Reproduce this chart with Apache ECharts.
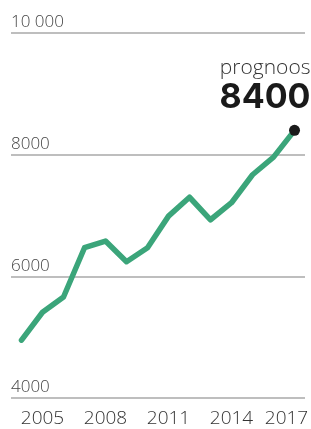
<!DOCTYPE html>
<html>
<head>
<meta charset="utf-8">
<script src="https://cdn.jsdelivr.net/npm/echarts@6/dist/echarts.min.js"></script>
<style>
  html, body { margin: 0; padding: 0; background: #fff; }
  #chart { width: 311px; height: 429px; }
</style>
</head>
<body>
<div id="chart"></div>
<script>
// aastad ja väärtused
var years = ['2004', '2005', '2006', '2007', '2008', '2009', '2010', '2011', '2012', '2013', '2014', '2015', '2016', '2017'];
var values = [4950, 5410, 5660, 6470, 6580, 6240, 6470, 6990, 7300, 6930, 7210, 7670, 7960, 8400];
var shownYears = ['2005', '2008', '2011', '2014', '2017'];
var forecastLabel = 'prognoos';

var chart = echarts.init(document.getElementById('chart'));
var last = values.length - 1;

chart.setOption({
    animation: false,
    grid: { left: 11, right: 0, top: 33, bottom: 31 },
    xAxis: {
        type: 'category',
        data: years.map(function (y) {
            // viimane silt veidi vasakule, et mahuks ära
            return y === '2017' ? { value: y, textStyle: { padding: [0, 16, 0, 0] } } : y;
        }),
        boundaryGap: true,
        axisLine: { show: false },
        axisTick: { show: false },
        axisLabel: {
            interval: function (idx, val) {
                return shownYears.indexOf(val) !== -1;
            },
            margin: 11,
            color: '#333',
            fontFamily: 'Open Sans',
            fontWeight: 300,
            fontSize: 19
        }
    },
    yAxis: {
        type: 'value',
        min: 4000,
        max: 10000,
        interval: 2000,
        axisLine: { show: false },
        axisTick: { show: false },
        splitLine: { lineStyle: { color: '#a8a8a8', width: 1.5 } },
        axisLabel: {
            inside: true,
            margin: 0,
            verticalAlign: 'bottom',
            padding: [0, 0, 2, 0],
            color: '#444',
            fontFamily: 'Open Sans',
            fontWeight: 300,
            fontSize: 17,
            formatter: function (v) {
                return v >= 10000 ? String(v).replace(/(\d+)(\d{3})$/, '$1 $2') : String(v);
            }
        }
    },
    series: [
        {
            type: 'line',
            data: values.map(function (v, i) {
                if (i !== last) return v;
                return {
                    value: v,
                    symbol: 'circle',
                    symbolSize: 11,
                    itemStyle: { color: '#1a1a1a' },
                    label: {
                        show: true,
                        position: 'top',
                        align: 'right',
                        offset: [16, -4],
                        formatter: function (p) {
                            return '{a|' + forecastLabel + '}\n{b|' + p.value + '}';
                        },
                        rich: {
                            a: { fontFamily: 'Open Sans', fontWeight: 300, fontSize: 21, color: '#333', align: 'right', lineHeight: 24 },
                            b: { fontFamily: 'Inter', fontWeight: 'bold', fontSize: 34, color: '#1a1a1a', align: 'right', lineHeight: 36 }
                        }
                    }
                };
            }),
            showSymbol: true,
            symbol: 'none',
            lineStyle: { color: '#3ba57a', width: 5.5, cap: 'round', join: 'round' },
            z: 3
        }
    ]
});
</script>
</body>
</html>
